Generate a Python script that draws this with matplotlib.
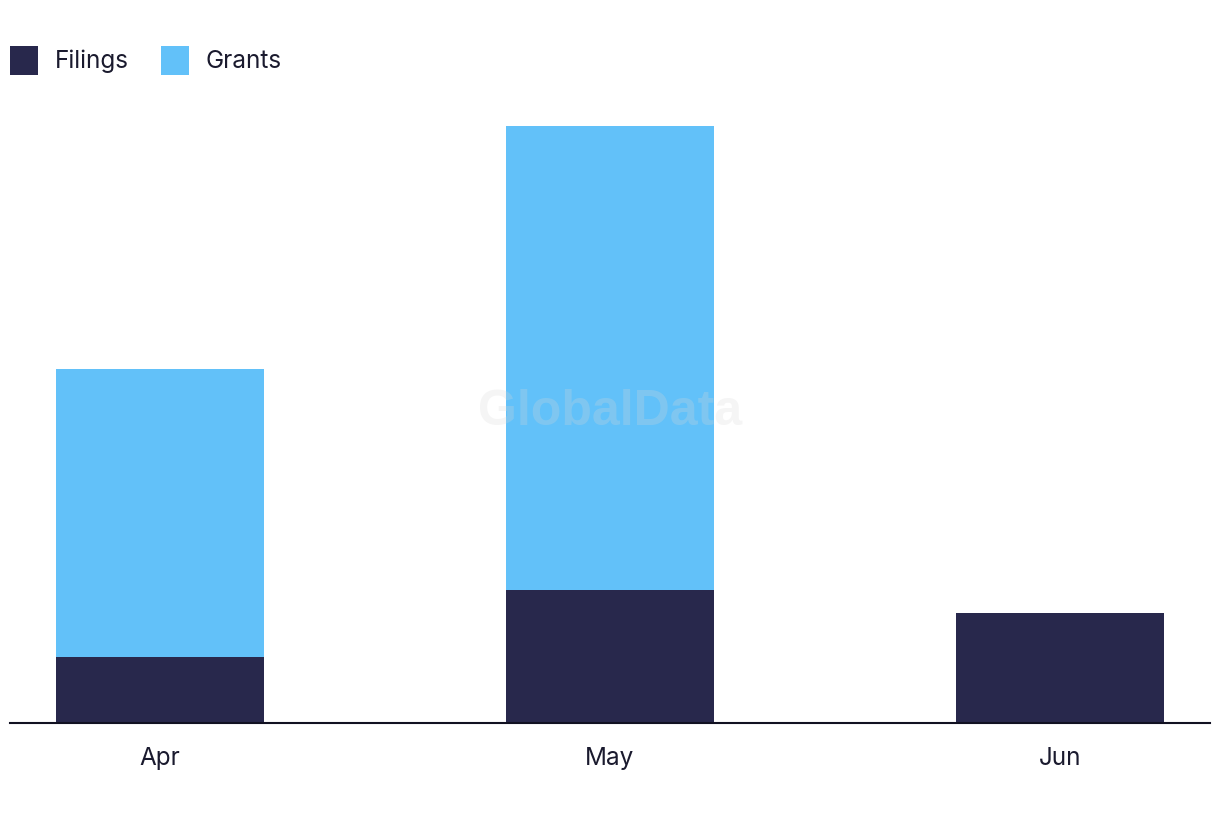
import matplotlib
matplotlib.use('Agg')
import matplotlib.pyplot as plt
import numpy as np

months = ['Apr', 'May', 'Jun']
filings = [3, 6, 5]
grants = [13, 21, 0]

plt.rcParams['font.family'] = ['Inter', 'DejaVu Sans']

navy = '#28284c'
blue = '#62c1f9'

fig = plt.figure(figsize=(12.2, 8.22), dpi=100)
# axes: left x=10, right x=1210, baseline y=723, top y=100 (pixels)
ax = fig.add_axes([10/1220, (822-723)/822, 1200/1220, (723-100)/822])

x = np.arange(len(months))
w = 0.462
ax.bar(x, filings, width=w, color=navy, label='Filings', zorder=2)
ax.bar(x, grants, width=w, bottom=filings, color=blue, label='Grants', zorder=2)

ax.set_xlim(-1/3, 2 + 1/3)
ax.set_ylim(0, (723-100)/22.1)
ax.set_xticks(x)
ax.set_xticklabels(months, fontsize=17.5, color='#1a1a2e')
ax.tick_params(axis='x', length=0, pad=17)
ax.set_yticks([])
for s in ['top', 'right', 'left']:
    ax.spines[s].set_visible(False)
ax.spines['bottom'].set_color('#111122')
ax.spines['bottom'].set_linewidth(1.5)

ax.text(0.5, 0.5, 'GlobalData', transform=ax.transAxes, fontsize=36,
        fontweight='bold', color='#d8d8d8', alpha=0.25, ha='center',
        va='center', family=['Liberation Sans', 'DejaVu Sans'], zorder=3)

leg = fig.legend(loc='upper left', bbox_to_anchor=(10/1220, 1 - 46/822), ncol=2,
                 frameon=False, fontsize=17.5, handlelength=1.15, handleheight=1.45,
                 handletextpad=0.7, columnspacing=1.3, borderaxespad=0,
                 borderpad=0)
for t in leg.get_texts():
    t.set_color('#1a1a2e')

fig.savefig('out.png', dpi=100)
